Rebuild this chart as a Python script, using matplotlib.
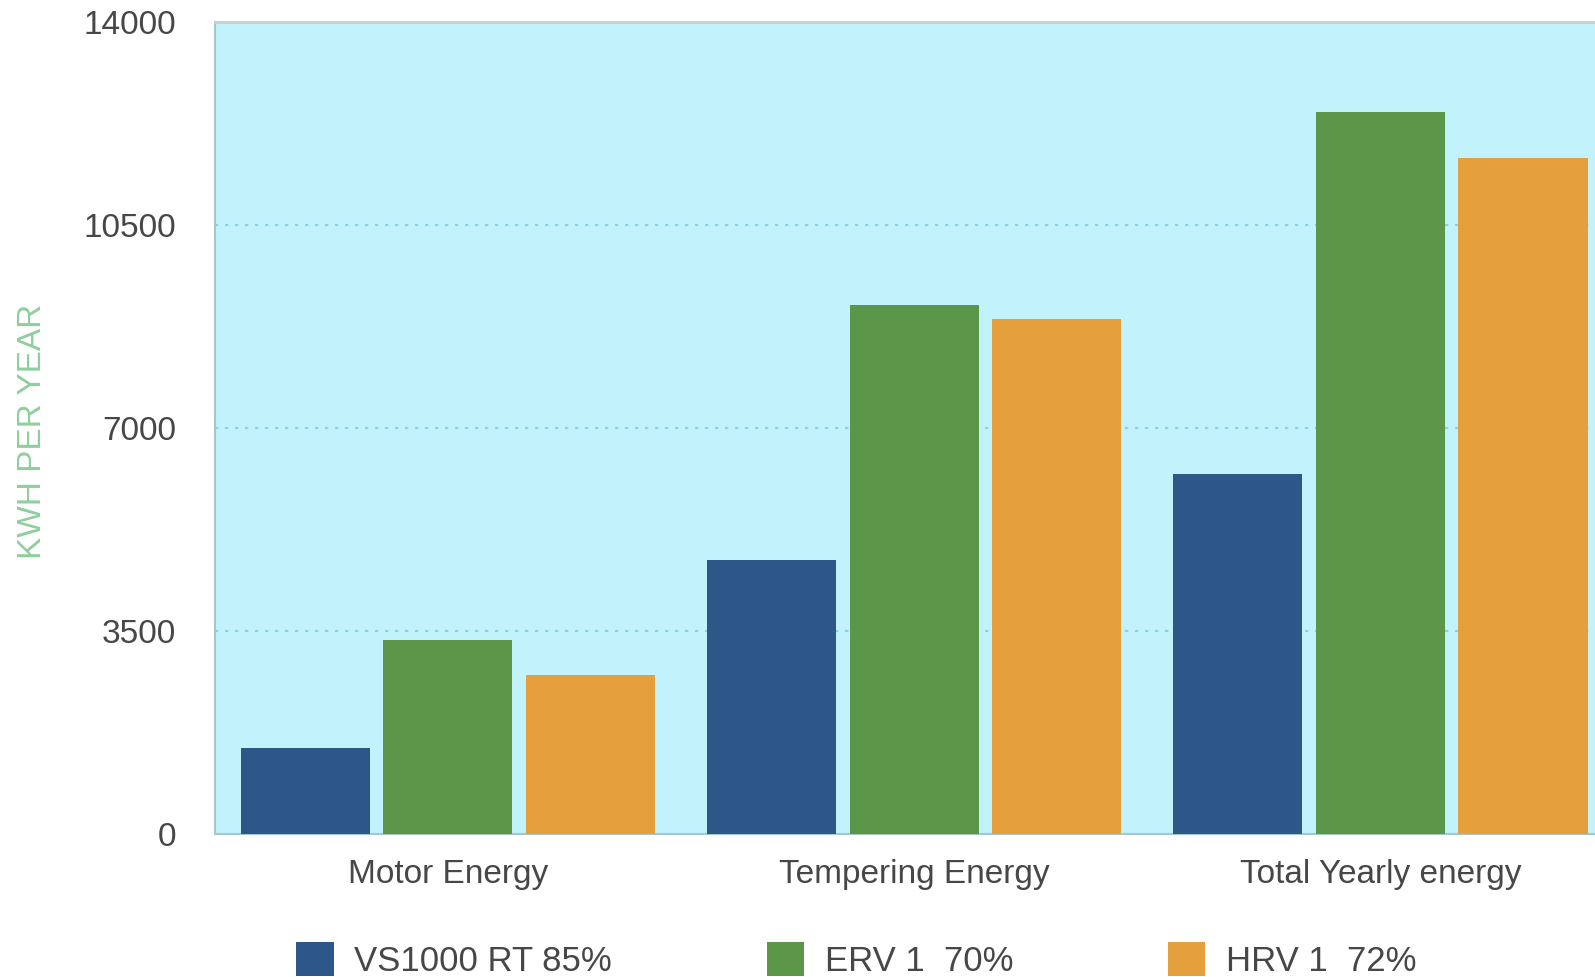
import numpy as np
import matplotlib
matplotlib.use("Agg")
import matplotlib.pyplot as plt

# Yearly energy comparison of the three ventilation units
categories = ["Motor Energy", "Tempering Energy", "Total Yearly energy"]
series_names = ["VS1000 RT 85%", "ERV 1  70%", "HRV 1  72%"]
vs1000 = [1490, 4720, 6210]
erv = [3350, 9120, 12460]
hrv = [2740, 8880, 11670]
y_ticks = [0, 3500, 7000, 10500, 14000]

colors = ["#2d5788", "#5c9649", "#e5a03d"]
text_color = "#474747"

plt.rcParams['font.family'] = ['Liberation Sans', 'DejaVu Sans']

fig = plt.figure(figsize=(15.95, 9.77), dpi=100)
ax = fig.add_axes([0.1346, 0.1464, 0.877, 0.8306])
ax.set_facecolor("#c2f3fc")

x = np.arange(len(categories))
width = 0.277
step = 0.306
for i, (vals, name) in enumerate(zip([vs1000, erv, hrv], series_names)):
    ax.bar(x + (i - 1) * step, vals, width, color=colors[i], label=name, zorder=3)

ax.set_xlim(-0.5, 2.5)
ax.set_ylim(0, 14000)
ax.set_yticks(y_ticks)
ax.set_yticklabels([str(t) for t in y_ticks])
ax.set_xticks(x)
ax.set_xticklabels(categories)
ax.tick_params(axis='both', length=0, labelsize=24, colors=text_color)
ax.tick_params(axis='y', pad=28)
ax.tick_params(axis='x', pad=18)

# dotted grid lines
ax.yaxis.grid(True, color="#86d2e6", linestyle=(0, (1.5, 3)), linewidth=1.6, zorder=1)
ax.set_axisbelow(True)

for side in ['left', 'bottom']:
    ax.spines[side].set_color("#a9c6cf")
    ax.spines[side].set_linewidth(1.5)
ax.spines['top'].set_color("#c9ced4")
ax.spines['top'].set_linewidth(2)
ax.spines['right'].set_visible(False)

fig.text(0.0205, 0.558, "KWH PER YEAR", rotation=90, ha='center', va='center',
         fontsize=24, color="#8fcf9c")

fig.legend(loc='center left', bbox_to_anchor=(0.175, 0.0174), ncol=3, frameon=False,
           fontsize=25, labelcolor=text_color, borderpad=0, handlelength=1.07,
           handleheight=1.1, handletextpad=0.6, columnspacing=4.45)

fig.savefig("out.png", dpi=100)
